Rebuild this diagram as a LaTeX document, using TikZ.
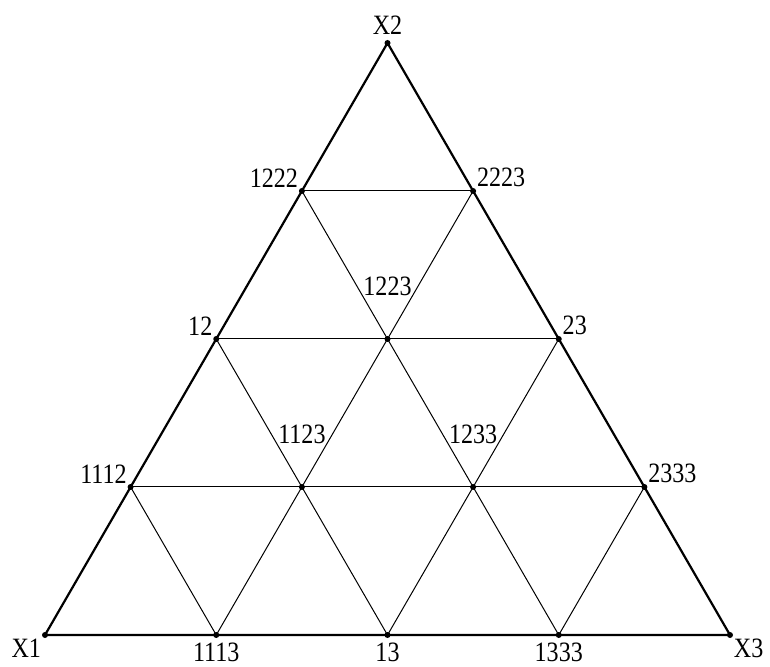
\documentclass[tikz,border=0pt]{standalone}
\usepackage{fontspec}
\setmainfont{Liberation Serif}[FakeStretch=0.86]
\usepackage{tikz}

\begin{document}
\begin{tikzpicture}[x=1pt,y=1pt,
  dot/.style={circle,fill=black,inner sep=0pt,minimum size=6pt},
  every label/.style={inner sep=1.5pt,font=\fontsize{28}{30}\selectfont},
  grid/.style={line width=1pt},
  rim/.style={line width=2.2pt,line join=miter}]
\useasboundingbox (0,0) rectangle (770,666);
% corners
\node[dot,label=below left:X1] (X1) at (45,31) {};
\node[dot,label=below right:X3] (X3) at (730,31) {};
\node[dot,label={[label distance=4pt]above:X2}] (X2) at (387.5,623) {};
% bottom side
\node[dot,label={[label distance=3pt]below:1113}] (n1113) at (216.25,31) {};
\node[dot,label={[label distance=3pt]below:13}] (n13) at (387.5,31) {};
\node[dot,label={[label distance=3pt]below:1333}] (n1333) at (558.75,31) {};
% left side
\node[dot,label=above left:1112] (n1112) at (130.6,179) {};
\node[dot,label=above left:12] (n12) at (216.25,327) {};
\node[dot,label=above left:1222] (n1222) at (301.9,475) {};
% right side
\node[dot,label=above right:2333] (n2333) at (644.4,179) {};
\node[dot,label=above right:23] (n23) at (558.75,327) {};
\node[dot,label=above right:2223] (n2223) at (473.1,475) {};
% inside
\node[dot,label={[label distance=38pt]above:1123}] (n1123) at (301.9,179) {};
\node[dot,label={[label distance=38pt]above:1233}] (n1233) at (473.1,179) {};
\node[dot,label={[label distance=38pt]above:1223}] (n1223) at (387.5,327) {};

% grid lines
\draw[grid] (n1112.center) -- (n2333.center);
\draw[grid] (n12.center) -- (n23.center);
\draw[grid] (n1222.center) -- (n2223.center);
\draw[grid] (n1113.center) -- (n2223.center);
\draw[grid] (n13.center) -- (n23.center);
\draw[grid] (n1333.center) -- (n2333.center);
\draw[grid] (n1112.center) -- (n1113.center);
\draw[grid] (n12.center) -- (n13.center);
\draw[grid] (n1222.center) -- (n1333.center);
% outer triangle
\draw[rim] (X1.center) -- (X2.center) -- (X3.center) -- cycle;
\end{tikzpicture}
\end{document}
